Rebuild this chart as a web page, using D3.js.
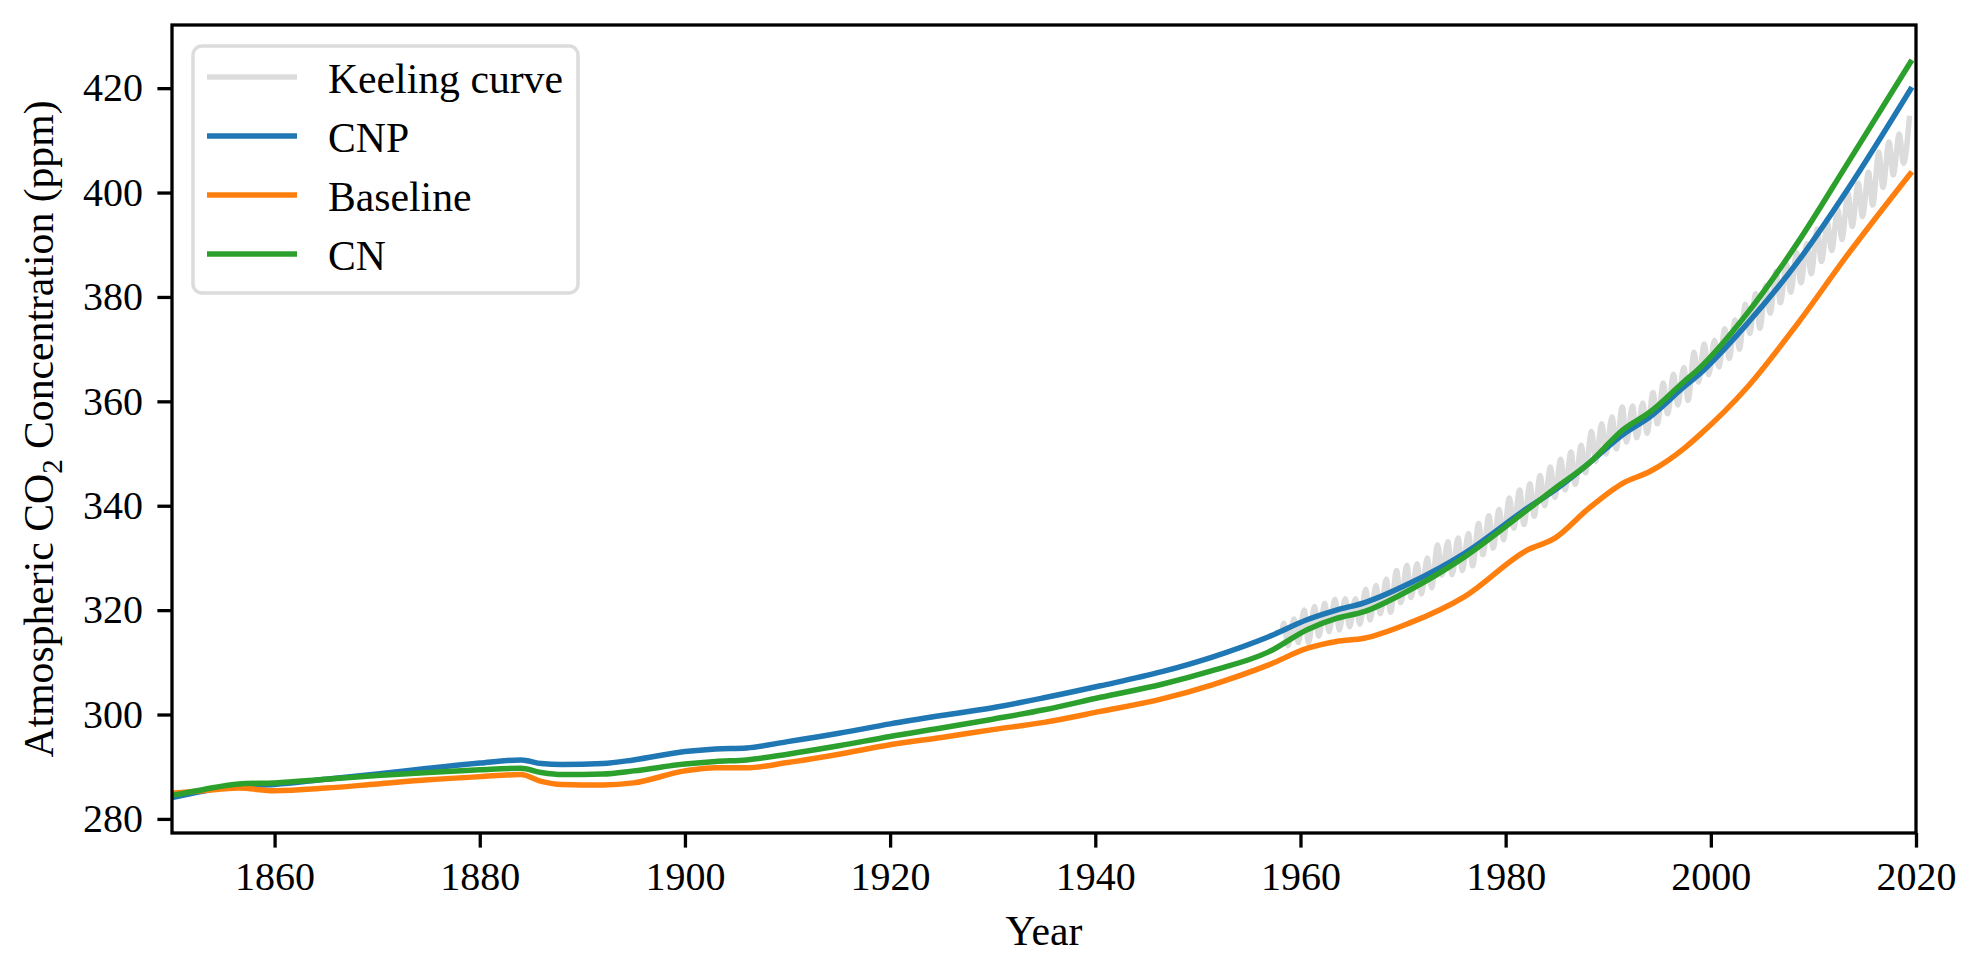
<!DOCTYPE html>
<meta charset="utf-8">
<style>
body { margin: 0; background: #fff; }
text { font-family: "Liberation Serif", "Times New Roman", serif; fill: #000; }
.axis text { font-size: 40px; }
.axis line { stroke: #000; stroke-width: 3.3px; }
.axis path { display: none; }
.frame { fill: none; stroke: #000; stroke-width: 3.3px; }
.series { fill: none; stroke-width: 5.5px; stroke-linejoin: round; }
.label { font-size: 41.7px; }
.legend-box { fill: #fff; stroke: #dcdcdc; stroke-width: 3.5px; }
</style>
<body>
<svg id="chart" width="1981" height="971"></svg>

<script src="https://cdn.jsdelivr.net/npm/d3@7"></script>
<script>

// model runs
let modelYears = [1850, 1853, 1856.5, 1860, 1865, 1870, 1875, 1880, 1884, 1886, 1888, 1892, 1895,
  1900, 1903, 1906, 1910, 1915, 1920, 1925, 1930, 1935, 1940.5, 1946.5, 1951.4, 1956.9,
  1960.7, 1963.5, 1966.2, 1970.6, 1976, 1982.1, 1984.8, 1988.1, 1991.4, 1994.1, 1997.4,
  1998.7, 2003.6, 2008.5, 2013.3, 2019.6];

let cnp = [284.1, 285.3, 286.4, 286.6, 287.6, 288.6, 289.7, 290.7, 291.3, 290.6, 290.4, 290.6, 291.3,
  292.9, 293.4, 293.6, 294.8, 296.4, 298.2, 299.8, 301.3, 303.2, 305.5, 308.2, 311.0, 314.9,
  318.2, 320.0, 321.4, 325.1, 330.9, 339.5, 343.0, 348.1, 353.6, 357.1, 362.8,
  364.9, 375.0, 386.8, 400.5, 420.2];

let baseline = [284.9, 285.4, 285.9, 285.4, 285.9, 286.7, 287.5, 288.1, 288.5, 287.2, 286.6, 286.5, 286.9,
  289.2, 289.8, 289.8, 290.8, 292.4, 294.2, 295.6, 297.1, 298.5, 300.6, 303.0, 305.7, 309.5,
  312.7, 314.0, 314.6, 317.5, 322.6, 331.5, 333.8, 339.5, 344.3, 346.6, 351.0,
  353.2, 362.8, 375.0, 388.0, 404.0];

let cn = [284.5, 285.6, 286.7, 286.9, 287.6, 288.3, 288.9, 289.4, 289.7, 288.9, 288.5, 288.6, 289.2,
  290.5, 291.0, 291.3, 292.4, 294.0, 295.8, 297.4, 299.1, 300.9, 303.3, 305.8, 308.4, 312.0,
  316.3, 318.4, 319.7, 323.8, 330.2, 339.2, 343.3, 348.1, 354.5, 358.0, 363.8,
  366.0, 377.0, 390.5, 405.5, 425.4];

// Mauna Loa: seasonal high (May) and low (autumn) for each year
let keelingYears = [1958, 1959, 1960, 1961, 1962, 1963, 1964, 1965, 1966, 1967, 1968, 1969,
  1970, 1971, 1972, 1973, 1974, 1975, 1976, 1977, 1978, 1979, 1980, 1981, 1982, 1983, 1984,
  1985, 1986, 1987, 1988, 1989, 1990, 1991, 1992, 1993, 1994, 1995, 1996, 1997, 1998, 1999,
  2000, 2001, 2002, 2003, 2004, 2005, 2006, 2007, 2008, 2009, 2010, 2011, 2012, 2013, 2014,
  2015, 2016, 2017, 2018, 2019];
let keelingHigh = [317.5, 318.3, 320.0, 320.7, 321.3, 322.1, 322.2, 322.2, 324.0, 324.7, 325.9, 327.6,
  328.6, 328.9, 330.0, 332.5, 333.1, 333.8, 334.7, 336.6, 338.1, 339.3, 341.5, 343.0, 344.2, 345.8, 347.4,
  348.9, 350.3, 351.6, 354.2, 355.7, 357.0, 358.9, 359.1, 359.7, 361.7, 363.5, 365.2, 366.5, 369.4, 371.0,
  371.7, 373.9, 375.6, 378.6, 380.6, 382.2, 384.9, 386.4, 388.5, 390.2, 393.0, 394.2, 396.8, 399.8, 401.8,
  403.9, 407.7, 409.7, 411.2, 414.7];
let keelingLow = [313.2, 313.8, 313.8, 315.0, 315.9, 316.2, 316.8, 317.3, 318.1, 319.3, 319.6, 321.4,
  322.4, 323.1, 324.3, 326.7, 326.8, 327.6, 328.5, 330.6, 331.9, 333.5, 335.7, 336.4, 338.0, 340.0, 341.6,
  343.0, 344.1, 346.3, 348.5, 349.9, 350.9, 352.2, 353.0, 353.9, 355.7, 357.6, 359.3, 360.2, 363.7, 365.1,
  366.6, 368.2, 370.0, 373.0, 374.0, 376.9, 378.9, 380.9, 382.7, 384.4, 386.8, 388.9, 391.0, 393.5, 395.4,
  397.6, 401.0, 403.4, 405.6];
let keelingStart = [1958.2, 315.7];

let xTicks = [1860, 1880, 1900, 1920, 1940, 1960, 1980, 2000, 2020];
let yTicks = [280, 300, 320, 340, 360, 380, 400, 420];

let series = [
  { name: 'Keeling curve', color: '#dcdcdc' },
  { name: 'CNP', color: '#1f77b4', values: cnp },
  { name: 'Baseline', color: '#ff7f0e', values: baseline },
  { name: 'CN', color: '#2ca02c', values: cn }
];

// build the keeling points: high in May, low in October
let keeling = [keelingStart];
keelingYears.forEach(function(yr, i) {
  keeling.push([yr + 0.37, keelingHigh[i]]);
  if (i < keelingLow.length) keeling.push([yr + 0.78, keelingLow[i]]);
});
series[0].points = keeling;
series.slice(1).forEach(function(s) {
  s.points = modelYears.map(function(yr, i) { return [yr, s.values[i]]; });
});

let plotLeft = 172, plotRight = 1916, plotTop = 25, plotBottom = 833;

let x = d3.scaleLinear().domain([1850, 2020]).range([plotLeft, plotRight]);
let y = d3.scaleLinear().domain([277.3, 432.1]).range([plotBottom, plotTop]);

let svg = d3.select('#chart');
svg.append('rect').attr('width', 1981).attr('height', 971).attr('fill', '#fff');

let line = d3.line()
  .x(function(d) { return x(d[0]); })
  .y(function(d) { return y(d[1]); })
  .curve(d3.curveMonotoneX);

svg.append('g')
  .selectAll('path')
  .data(series)
  .enter()
  .append('path')
  .attr('class', 'series')
  .attr('stroke', function(d) { return d.color; })
  .attr('d', function(d) { return line(d.points); });

// axes
svg.append('g')
  .attr('class', 'axis')
  .attr('transform', 'translate(0,' + plotBottom + ')')
  .call(d3.axisBottom(x).tickValues(xTicks).tickFormat(d3.format('d')).tickSize(14.6).tickPadding(14));

svg.append('g')
  .attr('class', 'axis')
  .attr('transform', 'translate(' + plotLeft + ',0)')
  .call(d3.axisLeft(y).tickValues(yTicks).tickSize(14.6).tickPadding(14.4));

svg.append('rect')
  .attr('class', 'frame')
  .attr('x', plotLeft).attr('y', plotTop)
  .attr('width', plotRight - plotLeft).attr('height', plotBottom - plotTop);

// axis labels
svg.append('text')
  .attr('class', 'label')
  .attr('x', (plotLeft + plotRight) / 2)
  .attr('y', 945)
  .attr('text-anchor', 'middle')
  .text('Year');

let ylab = svg.append('text')
  .attr('class', 'label')
  .attr('text-anchor', 'middle')
  .attr('transform', 'translate(53,' + ((plotTop + plotBottom) / 2) + ') rotate(-90)');
ylab.append('tspan').text('Atmospheric CO');
ylab.append('tspan').attr('font-size', '29px').attr('dy', '9').text('2');
ylab.append('tspan').attr('dy', '-9').text(' Concentration (ppm)');

// legend
let lg = svg.append('g');
lg.append('rect')
  .attr('class', 'legend-box')
  .attr('x', 193).attr('y', 46)
  .attr('width', 385).attr('height', 247)
  .attr('rx', 9).attr('ry', 9);

let rows = lg.selectAll('g.row')
  .data(series)
  .enter()
  .append('g')
  .attr('class', 'row')
  .attr('transform', function(d, i) { return 'translate(0,' + (77 + i * 59) + ')'; });

rows.append('line')
  .attr('x1', 207).attr('x2', 297)
  .attr('stroke', function(d) { return d.color; })
  .attr('stroke-width', 5.5);

rows.append('text')
  .attr('class', 'label')
  .attr('x', 328)
  .attr('y', 15.7)
  .text(function(d) { return d.name; });

</script>
</body>
